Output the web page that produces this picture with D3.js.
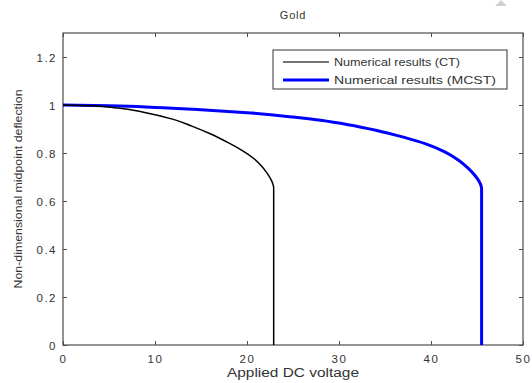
<!DOCTYPE html>
<html>
<head>
<meta charset="utf-8">
<script src="https://cdn.jsdelivr.net/npm/d3@7"></script>
<style>
  html, body { margin: 0; padding: 0; background: #fff; }
  svg { display: block; font-family: "Liberation Sans", Arial, sans-serif; }
</style>
</head>
<body>
<svg id="chart" width="532" height="383"></svg>
<script>
const title = "Gold";
const xLabel = "Applied DC voltage";
const yLabel = "Non-dimensional midpoint deflection";
const xTicks = [0, 10, 20, 30, 40, 50];
const yTicks = [0, 0.2, 0.4, 0.6, 0.8, 1, 1.2];
const seriesNames = ["Numerical results (CT)", "Numerical results (MCST)"];
const seriesColors = ["#000000", "#0000ff"];

const ctVoltage = [0, 3, 6, 9, 12, 14, 16, 18, 19.5, 20.7, 21.6, 22.2, 22.6, 22.82, 22.9, 22.9];
const ctDeflection = [1.0, 0.997, 0.987, 0.968, 0.94, 0.912, 0.88, 0.842, 0.81, 0.778, 0.745, 0.715, 0.69, 0.67, 0.655, 0];

const mcstVoltage = [0, 5, 10, 15, 20, 25, 28, 31, 34, 37, 39.5, 41.5, 43, 44, 44.8, 45.25, 45.45, 45.5, 45.5];
const mcstDeflection = [1.0, 0.997, 0.99, 0.98, 0.968, 0.95, 0.936, 0.918, 0.895, 0.866, 0.837, 0.805, 0.77, 0.738, 0.705, 0.68, 0.662, 0.648, 0];

const svg = d3.select("#chart");
const mLeft = 63, mRight = 523, mTop = 33, mBottom = 345;
const x = d3.scaleLinear().domain([0, 50]).range([mLeft, mRight]);
const y = d3.scaleLinear().domain([0, 1.3]).range([mBottom, mTop]);
const axisColor = "#4d4d4d";
const textColor = "#333";

// artifact triangle at top-right
svg.append("path").attr("d", "M495,6 L501,0 L507,6 Z").attr("fill", "#d0d0d0");

// ticks (inward, all four sides)
const tl = 4;
const g = svg.append("g");
function axisStyle(sel) {
  sel.select(".domain").remove();
  sel.selectAll(".tick line").attr("stroke", axisColor).attr("stroke-width", 1);
}
g.append("g").attr("transform", `translate(0,${mBottom})`)
  .call(d3.axisBottom(x).tickValues(xTicks).tickSize(-tl).tickPadding(8).tickFormat(d3.format("d")))
  .call(axisStyle)
  .call(s => s.selectAll("text").attr("fill", textColor).attr("font-size", 11.5).style("letter-spacing", "1.5px").attr("dy", "0.9em"));
g.append("g").attr("transform", `translate(0,${mTop})`)
  .call(d3.axisTop(x).tickValues(xTicks).tickSize(-tl).tickFormat(""))
  .call(axisStyle);
g.append("g").attr("transform", `translate(${mLeft},0)`)
  .call(d3.axisLeft(y).tickValues(yTicks).tickSize(-tl).tickPadding(6).tickFormat(d => d3.format("~g")(d)))
  .call(axisStyle)
  .call(s => s.selectAll("text").attr("fill", textColor).attr("font-size", 11.5).style("letter-spacing", "1.5px").attr("dy", "0.35em"));
g.append("g").attr("transform", `translate(${mRight},0)`)
  .call(d3.axisRight(y).tickValues(yTicks).tickSize(-tl).tickFormat(""))
  .call(axisStyle);

// box
svg.append("rect").attr("x", mLeft).attr("y", mTop).attr("width", mRight - mLeft).attr("height", mBottom - mTop)
  .attr("fill", "none").attr("stroke", axisColor).attr("stroke-width", 1.2);

// lines
const line = d3.line().x(d => x(d[0])).y(d => y(d[1])).curve(d3.curveMonotoneY);
const ctData = ctVoltage.map((v, i) => [v, ctDeflection[i]]);
const mcstData = mcstVoltage.map((v, i) => [v, mcstDeflection[i]]);
svg.append("path").datum(mcstData).attr("d", line).attr("fill", "none")
  .attr("stroke", seriesColors[1]).attr("stroke-width", 3);
svg.append("path").datum(ctData).attr("d", line).attr("fill", "none")
  .attr("stroke", seriesColors[0]).attr("stroke-width", 1.5);

// title
svg.append("text").attr("x", (mLeft + mRight) / 2).attr("y", 19).attr("text-anchor", "middle")
  .attr("font-size", 11).attr("fill", textColor).style("letter-spacing", "0.8px").text(title);

// axis labels
svg.append("text").attr("x", (mLeft + mRight) / 2).attr("y", 377).attr("text-anchor", "middle")
  .attr("font-size", 12).attr("fill", textColor).attr("textLength", 132).attr("lengthAdjust", "spacingAndGlyphs").text(xLabel);
svg.append("text").attr("transform", `translate(22,${(mTop + mBottom) / 2}) rotate(-90)`).attr("text-anchor", "middle")
  .attr("font-size", 11).attr("fill", textColor).attr("textLength", 199).attr("lengthAdjust", "spacingAndGlyphs").text(yLabel);

// legend
const lg = svg.append("g");
lg.append("rect").attr("x", 273).attr("y", 50).attr("width", 234).attr("height", 39)
  .attr("fill", "#fff").attr("stroke", "#333").attr("stroke-width", 1);
const rowsY = [62, 80];
seriesNames.forEach((name, i) => {
  lg.append("line").attr("x1", 283).attr("x2", 329).attr("y1", rowsY[i]).attr("y2", rowsY[i])
    .attr("stroke", i === 0 ? "#444" : seriesColors[i]).attr("stroke-width", i === 0 ? 1.5 : 3);
  lg.append("text").attr("x", 334).attr("y", rowsY[i] + 4).attr("font-size", 11).attr("fill", textColor)
    .attr("textLength", i === 0 ? 126 : 162).attr("lengthAdjust", "spacingAndGlyphs").text(name);
});
</script>
</body>
</html>
